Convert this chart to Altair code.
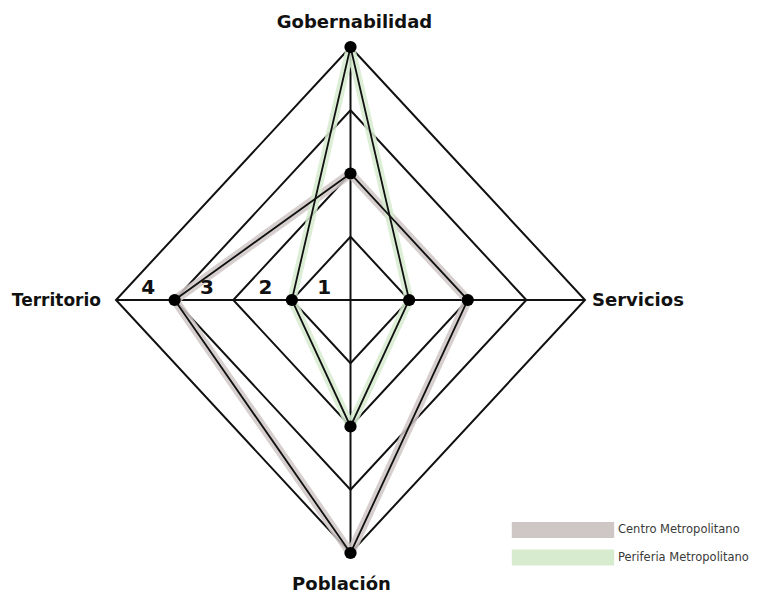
import altair as alt
import pandas as pd

# ---------------- data ----------------
axis_names = ["Gobernabilidad", "Servicios", "Población", "Territorio"]
series_names = ["Centro Metropolitano", "Periferia Metropolitano"]
centro_values = [2, 2, 4, 3]
periferia_values = [4, 1, 2, 1]
grid_levels = [1, 2, 3, 4]
level_labels = ["1", "2", "3", "4"]
series_colors = ["#cfc7c5", "#d7ebcf"]

# unit direction of each axis (top, right, bottom, left)
directions = {
    "Gobernabilidad": (0, 1),
    "Servicios": (1, 0),
    "Población": (0, -1),
    "Territorio": (-1, 0),
}


def ring(values, key, label):
    rows = []
    names = axis_names + [axis_names[0]]
    vals = list(values) + [values[0]]
    for i, (n, v) in enumerate(zip(names, vals)):
        dx, dy = directions[n]
        rows.append({key: label, "axis": n, "order": i, "x": v * dx, "y": v * dy})
    return rows


grid_rows = []
for lv in grid_levels:
    grid_rows += ring([lv] * 4, "level", lv)
grid_df = pd.DataFrame(grid_rows)

top = max(grid_levels)
spoke_df = pd.DataFrame([
    {"seg": "v", "order": 0, "x": 0, "y": top},
    {"seg": "v", "order": 1, "x": 0, "y": -top},
    {"seg": "h", "order": 0, "x": -top, "y": 0},
    {"seg": "h", "order": 1, "x": top, "y": 0},
])

series_df = pd.DataFrame(
    ring(centro_values, "series", series_names[0]) + ring(periferia_values, "series", series_names[1])
)
points_df = series_df[series_df["order"] < 4]

legend_df = pd.DataFrame({"grupo": series_names, "x": [0, 0], "y": [0, 0]})

label_df = pd.DataFrame([
    {"axis": n, "x": top * directions[n][0], "y": top * directions[n][1]} for n in axis_names
])

num_df = pd.DataFrame([
    {"lab": t, "x": -(lv - 0.5), "y": 0} for lv, t in zip(grid_levels, level_labels)
])

# ---------------- chart ----------------
xs = alt.Scale(domain=[-4, 4], nice=False, zero=False)
ys = alt.Scale(domain=[-4, 4], nice=False, zero=False)
X = alt.X("x:Q", scale=xs, axis=None)
Y = alt.Y("y:Q", scale=ys, axis=None)

grid = alt.Chart(grid_df).mark_line(color="#111", strokeWidth=2).encode(
    x=X, y=Y, detail="level:N", order="order:Q"
)
spokes = alt.Chart(spoke_df).mark_line(color="#111", strokeWidth=2).encode(
    x=X, y=Y, detail="seg:N", order="order:Q"
)
shade = alt.Chart(series_df).mark_line(strokeWidth=9, opacity=0.85, strokeJoin="round").encode(
    x=X, y=Y, detail="series:N", order="order:Q",
    stroke=alt.Stroke("series:N", scale=alt.Scale(domain=series_names, range=series_colors), legend=None),
)
lines = alt.Chart(series_df).mark_line(color="#111", strokeWidth=1.8).encode(
    x=X, y=Y, detail="series:N", order="order:Q"
)
dots = alt.Chart(points_df).mark_circle(color="#000", opacity=1, size=150).encode(x=X, y=Y)

# wide swatch: 12.8 x 2 units, scaled by sqrt(size)/2 = 8 px -> ~102 x 16 px
legend_layer = alt.Chart(legend_df).mark_square(size=1, opacity=1).encode(
    x=X, y=Y,
    fill=alt.Fill(
        "grupo:N",
        scale=alt.Scale(domain=series_names, range=series_colors),
        legend=alt.Legend(
            title=None, orient="none", legendX=439, legendY=475,
            symbolType="M-6.4,-1L6.4,-1L6.4,1L-6.4,1Z", symbolSize=256,
            symbolOpacity=1, symbolStrokeWidth=0,
            labelFont="DejaVu Sans", labelFontSize=11.5, labelColor="#3a3a3a",
            labelOffset=47, rowPadding=11.5, padding=0, offset=0, labelLimit=300,
        ),
    ),
)

text_font = "DejaVu Sans"
label_specs = {
    "Gobernabilidad": dict(align="center", baseline="alphabetic", dx=4, dy=-19, fontSize=18),
    "Servicios": dict(align="left", baseline="alphabetic", dx=7, dy=6, fontSize=18),
    "Población": dict(align="center", baseline="alphabetic", dx=-9, dy=37, fontSize=18),
    "Territorio": dict(align="right", baseline="alphabetic", dx=-15, dy=6, fontSize=17),
}
label_layers = []
for name in axis_names:
    label_layers.append(
        alt.Chart(label_df).transform_filter(alt.datum.axis == name).mark_text(
            font=text_font, fontWeight="bold", color="#111", **label_specs[name]
        ).encode(x=X, y=Y, text="axis:N")
    )

nums = alt.Chart(num_df).mark_text(
    font=text_font, fontSize=20, fontWeight="bold", color="#111",
    align="center", baseline="alphabetic", dx=3, dy=-6,
).encode(x=X, y=Y, text="lab:N")

chart = alt.layer(legend_layer, grid, spokes, shade, lines, dots, *label_layers, nums).properties(
    width=469, height=506,
    autosize=alt.AutoSizeParams(type="none"),
    padding={"left": 108, "top": 39, "right": 172, "bottom": 40},
).configure_view(stroke=None)

chart.save("out.html", embed_options={"renderer": "svg", "actions": False})
